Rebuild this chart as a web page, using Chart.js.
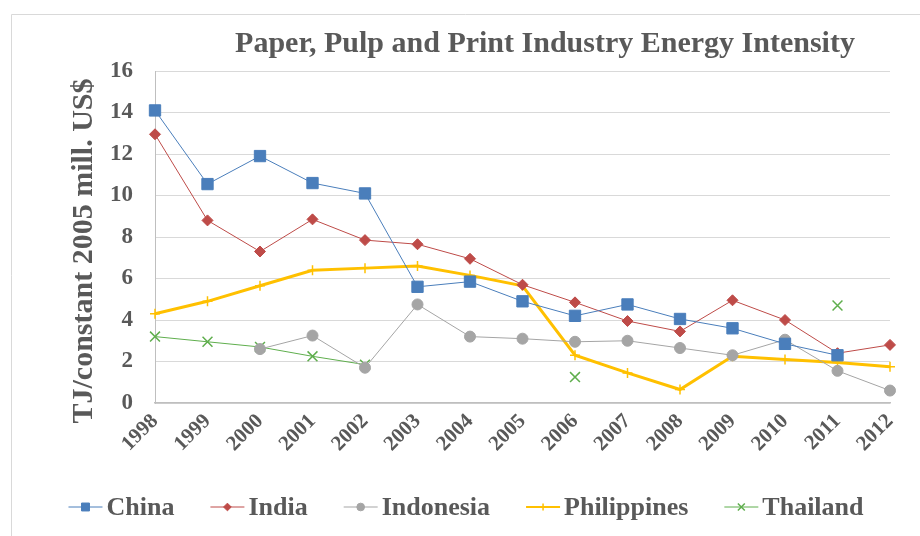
<!DOCTYPE html>
<html>
<head>
<meta charset="utf-8">
<title>Paper, Pulp and Print Industry Energy Intensity</title>
<script src="https://cdn.jsdelivr.net/npm/chart.js@4"></script>
<style>
  html, body { margin: 0; padding: 0; background: #ffffff; }
  #wrap { width: 920px; height: 536px; position: relative; }
</style>
</head>
<body>
<div id="wrap"><canvas id="chart" width="920" height="536"></canvas></div>
<script>
// Energy intensity, TJ per constant 2005 million US$
const years = ['1998','1999','2000','2001','2002','2003','2004','2005','2006','2007','2008','2009','2010','2011','2012'];
const china       = [14.1, 10.55, 11.9, 10.6, 10.1, 5.6, 5.85, 4.9, 4.2, 4.75, 4.05, 3.6, 2.85, 2.3, null];
const india       = [12.95, 8.8, 7.3, 8.85, 7.85, 7.65, 6.95, 5.7, 4.85, 3.95, 3.45, 4.95, 4.0, 2.4, 2.8];
const indonesia   = [null, null, 2.6, 3.25, 1.7, 4.75, 3.2, 3.1, 2.95, 3.0, 2.65, 2.3, 3.05, 1.55, 0.6];
const philippines = [4.3, 4.9, 5.65, 6.4, 6.5, 6.6, 6.15, 5.65, 2.3, 1.45, 0.65, 2.25, 2.1, 1.95, 1.75];
const thailand    = [3.2, 2.95, 2.7, 2.25, 1.85, null, null, null, 1.25, null, null, null, null, 4.7, null];
const yTicks = [0, 2, 4, 6, 8, 10, 12, 14, 16];

const chartTitle = 'Paper, Pulp and Print Industry Energy Intensity';
const yAxisTitle = 'TJ/constant 2005 mill. US$';

const FONT = '"Liberation Serif", "Times New Roman", serif';
const TEXT = '#595959';

function series(label, data, color, width, style, radius) {
  return {
    label, data,
    borderColor: color, backgroundColor: color,
    borderWidth: width,
    pointStyle: style, pointRadius: radius, pointHoverRadius: radius,
    pointBorderColor: color, pointBackgroundColor: color,
    pointBorderWidth: style === 'cross' || style === 'crossRot' ? 1.5 : 1,
    spanGaps: false, tension: 0
  };
}

const datasets = [
  series('China', china, '#4a7ebb', 1, 'rect', 8),
  series('India', india, '#be4b48', 1, 'rectRot', 5.5),
  series('Indonesia', indonesia, '#a5a5a5', 1, 'circle', 5.5),
  series('Philippines', philippines, '#ffc000', 3, 'cross', 5),
  series('Thailand', thailand, '#5fae4d', 1, 'crossRot', 7)
];

// Title, rotated axis title, legend and outer frame
const decorations = {
  id: 'decorations',
  beforeDraw(chart) {
    const ctx = chart.ctx;
    ctx.save();
    ctx.strokeStyle = '#d9d9d9';
    ctx.lineWidth = 1;
    ctx.beginPath();
    ctx.moveTo(11.5, 536); ctx.lineTo(11.5, 14.5); ctx.lineTo(920, 14.5);
    ctx.stroke();
    ctx.restore();
  },
  afterDraw(chart) {
    const ctx = chart.ctx;
    ctx.save();
    ctx.fillStyle = TEXT;
    ctx.textBaseline = 'middle';

    // chart title
    ctx.font = 'bold 30px ' + FONT;
    ctx.textAlign = 'center';
    ctx.fillText(chartTitle, 545, 44);

    // y axis title
    ctx.save();
    ctx.translate(84, 251);
    ctx.rotate(-Math.PI / 2);
    ctx.font = 'bold 30px ' + FONT;
    ctx.fillText(yAxisTitle, 0, 0);
    ctx.restore();

    // legend: short line with the series marker, then the name
    ctx.font = 'bold 26px ' + FONT;
    ctx.textAlign = 'left';
    const lineLen = 34, gapText = 4, gapItem = 36;
    const widths = chart.data.datasets.map(d => lineLen + gapText + ctx.measureText(d.label).width);
    const total = widths.reduce((a, b) => a + b, 0) + gapItem * (widths.length - 1);
    let x = 466 - total / 2;
    const y = 507;
    chart.data.datasets.forEach((d, i) => {
      ctx.strokeStyle = d.borderColor;
      ctx.fillStyle = d.borderColor;
      ctx.lineWidth = d.borderWidth > 1 ? 2 : 1;
      ctx.beginPath();
      ctx.moveTo(x, y); ctx.lineTo(x + lineLen, y);
      ctx.stroke();
      ctx.lineWidth = d.pointBorderWidth;
      Chart.helpers.drawPoint(ctx, {
        pointStyle: d.pointStyle,
        radius: d.pointRadius * 0.7,
        borderWidth: d.pointBorderWidth,
        rotation: 0
      }, x + lineLen / 2, y);
      ctx.fillStyle = TEXT;
      ctx.fillText(d.label, x + lineLen + gapText, y + 1);
      x += widths[i] + gapItem;
    });
    ctx.restore();
  }
};

new Chart(document.getElementById('chart'), {
  type: 'line',
  data: { labels: years, datasets },
  options: {
    responsive: false,
    devicePixelRatio: 1,
    animation: false,
    layout: { padding: { top: 71, left: 60, right: 30, bottom: 73 } },
    plugins: {
      legend: { display: false },
      title: { display: false },
      tooltip: { enabled: false }
    },
    scales: {
      x: {
        type: 'category',
        offset: false,
        grid: { display: false, drawTicks: false },
        border: { display: true, color: '#bfbfbf', width: 1.5 },
        ticks: {
          autoSkip: false,
          minRotation: 45, maxRotation: 45,
          padding: 6,
          color: TEXT,
          font: { family: FONT, size: 21, weight: 'bold' }
        },
        afterFit(scale) { scale.height = 60; }
      },
      y: {
        min: 0, max: 16,
        afterBuildTicks(scale) { scale.ticks = yTicks.map(v => ({ value: v })); },
        grid: { color: '#d9d9d9', lineWidth: 1, drawTicks: false },
        border: { display: true, color: '#bfbfbf', width: 1 },
        ticks: {
          padding: 22,
          color: TEXT,
          font: { family: FONT, size: 23, weight: 'bold' }
        },
        afterFit(scale) { scale.width = 95; }
      }
    }
  },
  plugins: [decorations]
});
</script>
</body>
</html>
